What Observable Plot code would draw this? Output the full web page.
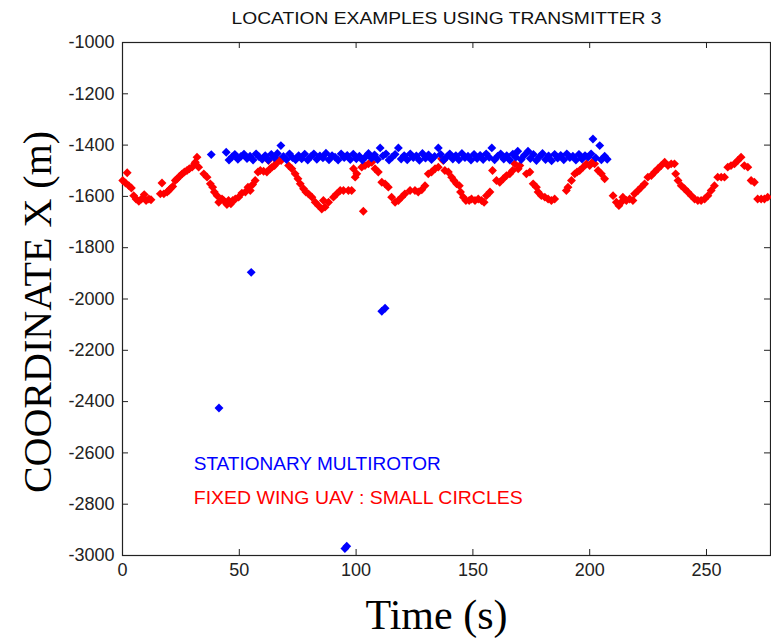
<!DOCTYPE html>
<html>
<head>
<meta charset="utf-8">
<script src="https://cdn.jsdelivr.net/npm/d3@7"></script>
<script src="https://cdn.jsdelivr.net/npm/@observablehq/plot@0.6"></script>
<style>
  html, body { margin: 0; padding: 0; background: #fff; }
  #chart svg { display: block; }
</style>
</head>
<body>
<div id="chart"></div>
<script>
// ---- Data ----
const titleText = "LOCATION EXAMPLES USING TRANSMITTER 3";
const xLabel = "Time (s)";
const yLabel = "COORDINATE X (m)";
const xTicks = [0, 50, 100, 150, 200, 250];
const yTicks = [-3000, -2800, -2600, -2400, -2200, -2000, -1800, -1600, -1400, -1200, -1000];

const legendNames = ["STATIONARY MULTIROTOR", "FIXED WING UAV : SMALL CIRCLES"];
const legendX = [30.5, 30.5];
const legendY = [-2645, -2775];

// Stationary multirotor (blue)
const blueT = [38.0, 44.4, 45.6, 46.9, 48.1, 49.4, 50.7, 52.0, 53.3, 54.6, 55.9, 57.2, 58.5, 59.8, 61.1, 62.4, 63.7, 65.0, 66.3, 67.8, 68.9, 70.2, 71.5, 72.8, 74.1, 75.4, 76.7, 78.0, 79.3, 80.6, 81.9, 83.2, 84.5, 85.8, 87.1, 88.4, 89.7, 91.0, 92.3, 93.6, 94.9, 96.2, 97.5, 98.8, 100.1, 101.4, 102.7, 104.0, 105.3, 106.6, 107.9, 109.2, 110.3, 111.5, 112.8, 114.1, 115.4, 116.7, 118.1, 119.3, 120.6, 121.9, 123.2, 124.5, 125.8, 127.1, 128.4, 129.7, 131.0, 132.3, 133.6, 135.2, 136.2, 137.5, 138.8, 140.1, 141.4, 142.7, 144.0, 145.3, 146.6, 147.9, 149.2, 150.5, 151.8, 153.1, 154.4, 155.7, 157.0, 158.1, 159.3, 160.6, 161.9, 163.2, 164.5, 165.8, 167.1, 168.4, 169.2, 170.7, 172.0, 173.6, 174.6, 175.9, 177.2, 178.5, 179.8, 181.1, 182.4, 183.7, 185.0, 186.3, 187.6, 188.9, 190.2, 191.5, 192.8, 194.1, 195.4, 196.7, 198.0, 199.3, 200.6, 201.4, 202.6, 204.3, 205.0, 206.4, 207.5,
  41.3, 55.1, 95.2, 96.0, 111.0, 112.4];
const blueV = [-1437, -1428, -1458, -1446, -1436, -1455, -1444, -1435, -1452, -1443, -1458, -1434, -1446, -1455, -1441, -1458, -1436, -1449, -1433, -1402, -1444, -1456, -1434, -1449, -1457, -1441, -1453, -1435, -1458, -1445, -1434, -1455, -1442, -1450, -1432, -1457, -1441, -1447, -1458, -1434, -1449, -1440, -1456, -1435, -1453, -1443, -1458, -1446, -1433, -1451, -1438, -1456, -1411, -1442, -1434, -1458, -1447, -1436, -1411, -1454, -1441, -1457, -1434, -1449, -1442, -1459, -1433, -1451, -1438, -1456, -1444, -1411, -1436, -1458, -1446, -1434, -1454, -1441, -1457, -1433, -1449, -1443, -1458, -1436, -1452, -1440, -1456, -1434, -1448, -1411, -1457, -1443, -1434, -1454, -1441, -1458, -1435, -1447, -1424, -1456, -1440, -1424, -1452, -1436, -1460, -1445, -1433, -1456, -1442, -1461, -1436, -1451, -1440, -1457, -1434, -1449, -1443, -1458, -1436, -1454, -1441, -1447, -1434, -1376, -1450, -1402, -1457, -1443, -1455,
  -2425, -1896, -2973, -2964, -2048, -2036];

// Fixed wing UAV, small circles (red)
const redT = [0.1, 1.3, 2.0, 2.7, 3.8, 4.8, 5.8, 7.0, 8.1, 9.3, 10.1, 11.3, 12.2, 16.2, 16.9, 17.7, 19.1, 19.8, 20.5, 21.5, 22.6, 23.4, 24.4, 25.5, 26.5, 27.6, 28.6, 29.8, 30.9, 31.2, 31.9, 32.6, 34.8, 36.2, 37.6, 38.6, 39.3, 40.5, 41.2, 42.6, 43.3, 44.7, 45.4, 46.4, 47.2, 48.3, 49.7, 51.1, 52.6, 53.7, 54.7, 55.7, 56.8, 58.0, 59.0, 60.4, 61.8, 62.5, 63.2, 64.0, 65.1, 66.1, 67.1, 67.9, 71.1, 72.5, 73.9, 75.1, 76.1, 77.5, 78.5, 79.6, 81.1, 82.5, 83.9, 85.3, 86.0, 86.7, 88.2, 90.3, 91.7, 93.2, 94.6, 96.7, 98.1, 98.9, 99.6, 100.3, 102.4, 103.1, 103.8, 105.3, 106.7, 108.1, 109.5, 111.0, 112.4, 113.8, 115.2, 116.7, 118.1, 119.5, 120.9, 123.1, 125.2, 126.6, 128.1, 129.5, 130.9, 132.3, 133.8, 135.2, 136.6, 137.3, 138.0, 139.5, 140.9, 141.9, 143.0, 144.2, 144.7, 145.9, 147.0, 148.4, 149.4, 150.9, 152.3, 153.7, 154.8, 155.8, 157.3, 158.4, 160.1, 161.5, 163.0, 164.4, 165.8, 167.0, 167.9, 169.4, 170.1, 172.9, 174.4, 175.8, 177.2, 177.9, 179.3, 180.8, 182.2, 183.6, 185.0, 190.0, 190.7, 192.2, 193.6, 194.6, 195.7, 197.2, 198.6, 200.0, 201.1, 202.1, 203.6, 205.0, 206.4, 210.0, 211.4, 212.5, 213.5, 214.2, 215.7, 217.1, 218.5, 219.2, 220.7, 222.1, 223.5, 224.9, 226.4, 227.8, 229.2, 230.6, 232.1, 233.5, 234.9, 236.3, 236.8, 237.8, 239.2, 240.6, 242.0, 243.5, 244.9, 246.3, 247.7, 249.2, 250.6, 252.0, 253.4, 254.8, 256.3, 257.7, 259.1, 260.5, 262.0, 263.4, 264.8, 266.2, 267.7, 269.1, 270.5, 271.9, 273.4, 274.8, 276.2];
const redV = [-1538, -1548, -1508, -1558, -1567, -1597, -1610, -1619, -1610, -1593, -1616, -1610, -1613, -1590, -1548, -1590, -1583, -1577, -1570, -1561, -1538, -1531, -1522, -1512, -1505, -1499, -1492, -1486, -1473, -1467, -1447, -1486, -1512, -1525, -1551, -1564, -1583, -1597, -1623, -1610, -1616, -1632, -1616, -1629, -1616, -1610, -1603, -1587, -1583, -1564, -1577, -1554, -1538, -1505, -1499, -1502, -1505, -1460, -1492, -1486, -1480, -1467, -1460, -1460, -1480, -1492, -1512, -1531, -1551, -1570, -1583, -1590, -1603, -1623, -1636, -1649, -1616, -1642, -1623, -1603, -1590, -1577, -1577, -1577, -1577, -1492, -1525, -1512, -1486, -1658, -1480, -1473, -1467, -1492, -1505, -1545, -1551, -1564, -1603, -1623, -1616, -1603, -1590, -1577, -1577, -1583, -1574, -1558, -1512, -1505, -1492, -1486, -1453, -1460, -1499, -1505, -1525, -1538, -1551, -1558, -1583, -1603, -1616, -1616, -1610, -1616, -1610, -1616, -1623, -1597, -1583, -1499, -1538, -1545, -1531, -1519, -1512, -1499, -1473, -1492, -1480, -1512, -1505, -1551, -1564, -1583, -1597, -1603, -1610, -1616, -1610, -1577, -1564, -1538, -1512, -1505, -1499, -1486, -1473, -1480, -1467, -1473, -1499, -1512, -1531, -1597, -1623, -1636, -1623, -1603, -1616, -1610, -1616, -1590, -1577, -1564, -1551, -1525, -1519, -1505, -1492, -1480, -1467, -1480, -1473, -1473, -1512, -1538, -1558, -1570, -1583, -1597, -1610, -1616, -1616, -1610, -1597, -1577, -1558, -1525, -1525, -1525, -1486, -1480, -1473, -1460, -1447, -1480, -1486, -1538, -1545, -1610, -1610, -1610, -1603];

// ---- Build tables ----
const blue = blueT.map((t, i) => ({t, v: blueV[i]}));
const red = redT.map((t, i) => ({t, v: redV[i]}));
const legend = legendNames.map((name, i) => ({name, x: legendX[i], y: legendY[i]}));

const tickFont = "'Liberation Sans', Arial, sans-serif";
const serif = "'Liberation Serif', 'Times New Roman', serif";
const xMin = 0, xMax = 277.4, yMin = -3000, yMax = -1000;
const fmt = d => String(d);

const chart = Plot.plot({
  width: 771,
  height: 640,
  marginLeft: 122,
  marginRight: 1,
  marginTop: 42,
  marginBottom: 85,
  style: {fontFamily: tickFont, fontSize: "18px", color: "#222", background: "#fff"},
  x: {domain: [xMin, xMax]},
  y: {domain: [yMin, yMax]},
  marks: [
    Plot.frame({stroke: "#222", strokeWidth: 1.2}),
    // inward tick marks on all four sides
    Plot.ruleX(xTicks, {y1: yMin, y2: yMin, insetTop: -6, stroke: "#222"}),
    Plot.ruleX(xTicks, {y1: yMax, y2: yMax, insetBottom: -6, stroke: "#222"}),
    Plot.ruleY(yTicks, {x1: xMin, x2: xMin, insetRight: -6, stroke: "#222"}),
    Plot.ruleY(yTicks, {x1: xMax, x2: xMax, insetLeft: -6, stroke: "#222"}),
    Plot.axisX(xTicks, {anchor: "bottom", tickSize: 0, tickPadding: 8, tickFormat: fmt, label: null, fontSize: 18, fill: "#222"}),
    Plot.axisY(yTicks, {anchor: "left", tickSize: 0, tickPadding: 8, tickFormat: fmt, label: null, fontSize: 18, fill: "#222"}),
    Plot.dot(red, {x: "t", y: "v", symbol: "diamond2", r: 4, fill: "#ff0000"}),
    Plot.dot(blue, {x: "t", y: "v", symbol: "diamond2", r: 4, fill: "#0000ff"}),
    Plot.text(legend, {x: "x", y: "y", text: "name", textAnchor: "start", fontSize: 18,
      fill: (d, i) => i === 0 ? "#0000ff" : "#ff0000"}),
    Plot.text([titleText], {frameAnchor: "top", lineAnchor: "middle", dy: -24, fontSize: 17, fill: "#111"}),
    Plot.text([xLabel], {frameAnchor: "bottom", lineAnchor: "middle", dy: 60, dx: -10, fontSize: 42, fontFamily: serif, fill: "#000"}),
    Plot.text([yLabel], {frameAnchor: "left", rotate: -90, textAnchor: "middle", lineAnchor: "middle", dx: -84, dy: 13, fontSize: 40, fontFamily: serif, fill: "#000"})
  ]
});

// stretch a few labels to the widths seen in the reference
const widths = {};
widths[titleText] = 430;
widths[legendNames[0]] = 247;
widths[legendNames[1]] = 329;
d3.select(chart).selectAll("text").each(function() {
  const t = this.textContent;
  if (widths[t]) {
    this.setAttribute("textLength", widths[t]);
    this.setAttribute("lengthAdjust", "spacingAndGlyphs");
  }
});

document.getElementById("chart").appendChild(chart);
</script>
</body>
</html>
